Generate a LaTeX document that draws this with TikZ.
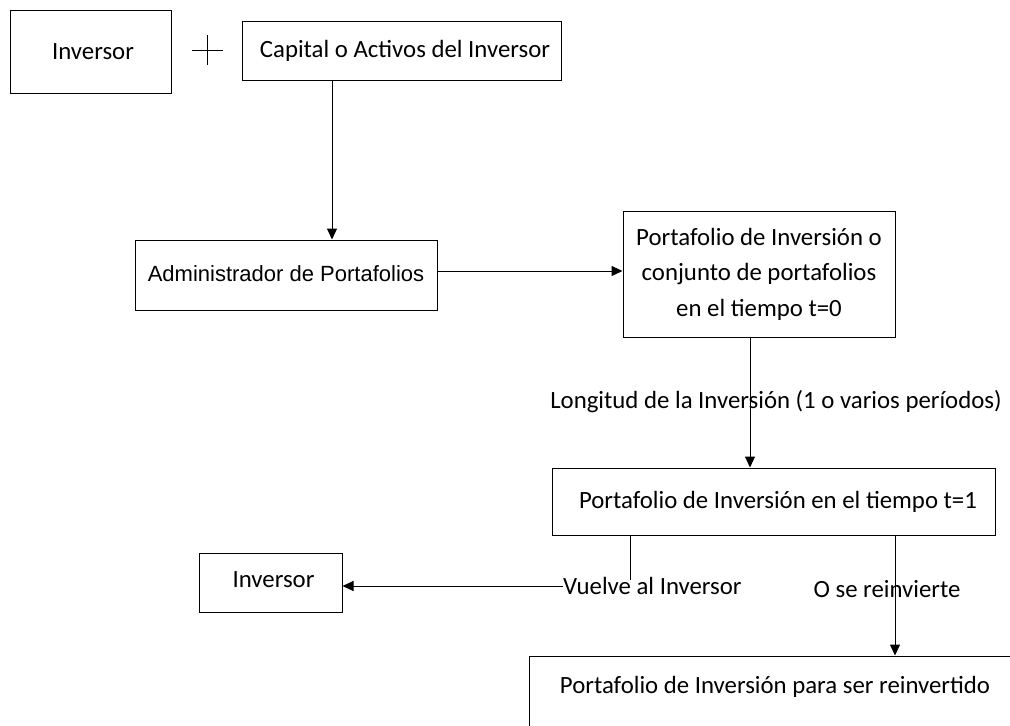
\documentclass[tikz,border=0pt]{standalone}
\usepackage{fontspec}
\setmainfont{Carlito}
\newfontfamily\admfont{Liberation Sans}
\usetikzlibrary{arrows.meta,calc}

\tikzset{
  box/.style={draw, line width=1pt, rectangle, inner sep=0pt, font=\fontsize{24.8}{35.5}\selectfont, align=center},
  txt/.style={inner sep=0pt, font=\fontsize{24.8}{35.5}\selectfont},
  conn/.style={line width=1pt},
  arr/.style={line width=1pt, -{Triangle[length=11pt,width=10pt]}}
}

\begin{document}
\begin{tikzpicture}[x=1pt,y=-1pt]
  \useasboundingbox (0,0) rectangle (1010,726);
  \clip (0,0) rectangle (1010,726);
  \fill[white] (0,0) rectangle (1010,726);

  % top row
  \node[box, minimum width=161pt, minimum height=83pt] (inv1) at (90.5,51.5) {\hspace*{5pt}Inversor};
  \coordinate (plusc) at (207,50);
  \draw[conn] ($(plusc)+(-15,0)$) -- ($(plusc)+(16,0)$);
  \draw[conn] ($(plusc)+(0,-15)$) -- ($(plusc)+(0,15)$);
  \node[box, minimum width=319pt, minimum height=59pt] (cap) at (401.5,50.5) {\hspace*{7pt}Capital o Activos del Inversor};

  % manager and initial portfolio
  \node[box, minimum width=302pt, minimum height=70pt, font=\admfont\fontsize{22}{26}\selectfont] (adm) at (286,275) {\raisebox{2pt}{Administrador de Portafolios}};
  \node[box, minimum width=272pt, minimum height=126pt] (pf0) at (759,274) {Portafolio de Inversión o\\conjunto de portafolios\\en el tiempo t=0};

  % portfolio at t=1
  \node[box, minimum width=443pt, minimum height=67pt] (pf1) at (773.5,501.5) {\hspace*{9pt}\raisebox{2pt}{Portafolio de Inversión en el tiempo t=1}};

  % outcomes
  \node[box, minimum width=143pt, minimum height=59pt] (inv2) at (270.5,582.5) {\raisebox{5pt}{\hspace*{6pt}Inversor}};
  \node[box, minimum width=491pt, minimum height=104pt] (pfr) at (774.5,708) {};
  \node[txt] (pfrtxt) at (775,687) {Portafolio de Inversión para ser reinvertido};

  % connectors
  \draw[arr] (cap.south -| 332,0) -- (adm.north -| 332,0);
  \draw[arr] (adm.east |- 0,271) -- (pf0.west |- 0,271);

  \node[txt] (lon) at (776,402) {Longitud de la Inversión (1 o varios períodos)};
  \draw[arr] (pf0.south -| 750,0) -- (pf1.north -| 750,0);

  \node[txt, anchor=west] (vuelve) at (563,586) {Vuelve al Inversor};
  \coordinate (vtop) at (630,580);
  \draw[conn] (pf1.south -| vtop) -- (vtop);
  \draw[arr] (vuelve.west) -- (inv2.east |- vuelve.west);

  \node[txt] (reinv) at (887,589) {O se reinvierte};
  \draw[arr] (pf1.south -| 895,0) -- (pfr.north -| 895,0);
\end{tikzpicture}
\end{document}
